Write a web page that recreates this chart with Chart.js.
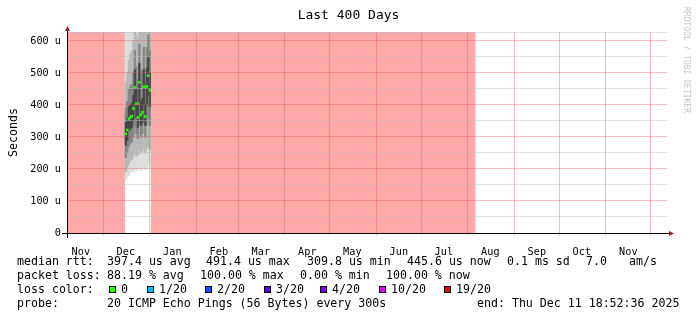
<!DOCTYPE html>
<html>
<head>
<meta charset="utf-8">
<title>Last 400 Days</title>
<script src="https://cdn.jsdelivr.net/npm/chart.js@4.4.1/dist/chart.umd.min.js"></script>
<style>
  html, body { margin: 0; padding: 0; background: #fff; }
  #wrap { position: relative; width: 697px; height: 321px; }
  .txt { position: absolute; font: 11.6px "DejaVu Sans Mono", monospace; line-height: 14px; white-space: pre; color: #000; }
  .box { position: absolute; width: 7px; height: 7px; box-sizing: border-box; border: 1px solid #000; }
  #mark { position: absolute; left: 682px; top: 7px; writing-mode: vertical-rl; font: 8px "DejaVu Sans Mono", monospace; color: #c4c4c4; white-space: pre; }
</style>
</head>
<body>
<div id="wrap">
  <canvas id="graficoPing"></canvas>
  <div id="mark">RRDTOOL / TOBI OETIKER</div>
</div>
<script>
const DAY = 86400000;
const graphStart = '2024-11-06T18:52:36Z';
const graphDays = 400;

// eje x: rejilla al inicio de cada mes, etiqueta a mitad de mes
const monthStarts = ['2024-12-01', '2025-01-01', '2025-02-01', '2025-03-01', '2025-04-01', '2025-05-01',
  '2025-06-01', '2025-07-01', '2025-08-01', '2025-09-01', '2025-10-01', '2025-11-01', '2025-12-01'];
const monthLabelDays = ['2024-11-16', '2024-12-16', '2025-01-16', '2025-02-16', '2025-03-16', '2025-04-16',
  '2025-05-16', '2025-06-16', '2025-07-16', '2025-08-16', '2025-09-16', '2025-10-16', '2025-11-16'];
const monthLabels = ['Nov', 'Dec', 'Jan', 'Feb', 'Mar', 'Apr', 'May', 'Jun', 'Jul', 'Aug', 'Sep', 'Oct', 'Nov'];

// eje y (microsegundos)
const yGrid = [0, 50, 100, 150, 200, 250, 300, 350, 400, 450, 500, 550, 600];
const yMax = 628;

// dias con respuesta
const pingDays = ['2024-12-16', '2024-12-17', '2024-12-18', '2024-12-19', '2024-12-20', '2024-12-21',
  '2024-12-22', '2024-12-23', '2024-12-24', '2024-12-25', '2024-12-26', '2024-12-27', '2024-12-28',
  '2024-12-29', '2024-12-30', '2024-12-31', '2025-01-01'];
const medianRtt = [309.8, 322, 356, 361, 365, 389, 455, 404, 361, 471, 369, 377, 457, 364, 458, 491.4, 445.6];

// humo: rangos de los pings ordenados
const outerLo = [165, 175, 180, 190, 195, 190, 200, 195, 200, 205, 195, 200, 205, 200, 200, 210, 205];
const outerHi = [640, 640, 640, 640, 640, 640, 640, 640, 640, 640, 640, 640, 640, 640, 640, 640, 640];
const midLo = [190, 205, 215, 225, 230, 240, 250, 240, 245, 260, 250, 255, 265, 250, 265, 270, 260];
const midHi = [470, 500, 540, 560, 570, 600, 640, 620, 600, 640, 640, 640, 640, 640, 640, 640, 640];
const innerLo = [235, 250, 270, 280, 285, 300, 330, 310, 295, 340, 300, 310, 340, 300, 340, 360, 335];
const innerHi = [390, 410, 450, 460, 465, 500, 570, 520, 480, 590, 500, 510, 580, 490, 580, 620, 570];
const coreLo = [275, 290, 320, 325, 330, 350, 400, 360, 330, 410, 335, 345, 400, 335, 400, 430, 395];
const coreHi = [345, 360, 395, 400, 405, 430, 510, 450, 400, 530, 410, 420, 510, 400, 515, 550, 500];

// periodos con 100% de perdida
const lossFrom = ['2024-11-06T18:52:36Z', '2025-01-01T12:00:00Z'];
const lossTo = ['2024-12-15T12:00:00Z', '2025-08-06T06:00:00Z'];

const lossColors = ['#26ff00', '#00b8ff', '#0059ff', '#5e00ff', '#7e00ff', '#dd00ff', '#ff0000'];
const lossColorLabels = ['0', '1/20', '2/20', '3/20', '4/20', '10/20', '19/20'];

const t0 = Date.parse(graphStart);
const toDay = s => (Date.parse(s) - t0) / DAY;

const band = (lo, hi) => pingDays.map((d, i) => ({ x: toDay(d), y: [lo[i], hi[i]] }));

const lossData = [];
lossFrom.forEach((f, i) => {
  if (i > 0) lossData.push({ x: toDay(f), y: null });
  lossData.push({ x: toDay(f), y: yMax });
  lossData.push({ x: toDay(lossTo[i]), y: yMax });
});

const redGrid = 'rgba(224, 80, 80, 0.36)';
const grayGrid = 'rgba(186, 186, 186, 0.45)';
const mono = 'DejaVu Sans Mono';

const smoke = (data, color, order) => ({
  type: 'bar', data, backgroundColor: color, borderWidth: 0, order,
  grouped: false, barPercentage: 1, categoryPercentage: 1
});

const ejes = {
  id: 'ejes',
  afterDraw(chart) {
    const { ctx, chartArea: a } = chart;
    ctx.save();
    ctx.strokeStyle = '#000';
    ctx.lineWidth = 1;
    ctx.beginPath();
    ctx.moveTo(a.left - 5, a.bottom + 0.5);
    ctx.lineTo(a.right + 3, a.bottom + 0.5);
    ctx.moveTo(a.left + 0.5, a.bottom + 5);
    ctx.lineTo(a.left + 0.5, a.top - 2);
    ctx.stroke();
    ctx.fillStyle = '#9b1c1c';
    ctx.beginPath();
    ctx.moveTo(a.right + 7, a.bottom + 0.5);
    ctx.lineTo(a.right + 2, a.bottom - 2);
    ctx.lineTo(a.right + 2, a.bottom + 3);
    ctx.fill();
    ctx.beginPath();
    ctx.moveTo(a.left + 0.5, a.top - 6);
    ctx.lineTo(a.left - 2, a.top - 1);
    ctx.lineTo(a.left + 3, a.top - 1);
    ctx.fill();
    ctx.restore();
  }
};

const ctxPing = document.getElementById('graficoPing').getContext('2d');
new Chart(ctxPing, {
  type: 'bar',
  data: {
    datasets: [
      {
        type: 'scatter',
        data: pingDays.map((d, i) => ({ x: toDay(d), y: medianRtt[i] })),
        pointStyle: 'rect',
        pointRadius: 1.8,
        borderWidth: 0,
        backgroundColor: lossColors[0],
        order: 0
      },
      smoke(band(coreLo, coreHi), '#454545', 1),
      smoke(band(innerLo, innerHi), '#858585', 2),
      smoke(band(midLo, midHi), '#b8b8b8', 3),
      smoke(band(outerLo, outerHi), '#dddddd', 4),
      {
        type: 'line',
        data: lossData,
        fill: 'origin',
        backgroundColor: '#ffaaaa',
        borderColor: '#c6a8ee',
        borderWidth: 1,
        pointRadius: 0,
        spanGaps: false,
        order: 5
      }
    ]
  },
  options: {
    responsive: true,
    maintainAspectRatio: false,
    animation: false,
    layout: { padding: 0 },
    plugins: {
      legend: { display: false },
      tooltip: { enabled: false },
      title: {
        display: true,
        text: 'Last 400 Days',
        color: '#000',
        font: { family: mono, size: 13, weight: 'normal' },
        padding: { top: 7.7, bottom: 8.7 }
      }
    },
    scales: {
      x: {
        type: 'linear',
        min: 0,
        max: graphDays,
        offset: false,
        afterBuildTicks: s => { s.ticks = monthStarts.map(d => ({ value: toDay(d) })); },
        afterFit: s => { s.height = 3; },
        ticks: { display: false },
        grid: { color: redGrid, tickColor: redGrid, tickLength: 3, drawTicks: true, offset: false, z: 1 },
        border: { display: false }
      },
      x2: {
        type: 'linear',
        position: 'bottom',
        min: 0,
        max: graphDays,
        offset: false,
        afterBuildTicks: s => { s.ticks = monthLabelDays.map(d => ({ value: toDay(d) })); },
        afterFit: s => { s.height = 85; },
        ticks: {
          callback: (v, i) => monthLabels[i],
          autoSkip: false,
          maxRotation: 0,
          padding: 2,
          color: '#000',
          font: { family: mono, size: 10.2 }
        },
        grid: { display: false },
        border: { display: false }
      },
      y: {
        min: 0,
        max: yMax,
        afterBuildTicks: s => { s.ticks = yGrid.concat([yMax]).map(v => ({ value: v })); },
        afterFit: s => { s.width = 67; },
        ticks: {
          callback: v => v === 0 ? '0' : (v % 100 === 0 ? v + ' u' : ''),
          autoSkip: false,
          padding: 6,
          color: '#000',
          font: { family: mono, size: 10.2 }
        },
        grid: {
          color: c => c.tick && c.tick.value % 100 === 0 ? redGrid : grayGrid,
          drawTicks: false,
          z: 1
        },
        border: { display: false },
        title: {
          display: true,
          text: 'Seconds',
          color: '#000',
          font: { family: mono, size: 11.6 },
          padding: { top: 7, bottom: 0 }
        }
      },
      margen: {
        axis: 'y',
        position: 'right',
        min: 0,
        max: yMax,
        afterFit: s => { s.width = 30; },
        ticks: { display: false },
        grid: { display: false },
        border: { display: false }
      }
    }
  },
  plugins: [ejes]
});

// leyenda de texto
const wrap = document.getElementById('wrap');
function put(x, y, text) {
  const el = document.createElement('div');
  el.className = 'txt';
  el.style.left = x + 'px';
  el.style.top = y + 'px';
  el.textContent = text;
  wrap.appendChild(el);
}

const avg = medianRtt.reduce((a, b) => a + b, 0) / medianRtt.length;
const rttItems = [
  [17, 'median rtt:'],
  [107, avg.toFixed(1) + ' us avg'],
  [206, Math.max(...medianRtt).toFixed(1) + ' us max'],
  [307, Math.min(...medianRtt).toFixed(1) + ' us min'],
  [407, medianRtt[medianRtt.length - 1].toFixed(1) + ' us now'],
  [507, '0.1 ms sd'],
  [586, '7.0'],
  [629, 'am/s']
];
rttItems.forEach(([x, t]) => put(x, 254, t));

const lossItems = [[17, 'packet loss:'], [107, '88.19 % avg'], [200, '100.00 % max'], [300, '0.00 % min'], [386, '100.00 % now']];
lossItems.forEach(([x, t]) => put(x, 268, t));

put(17, 282, 'loss color:');
const boxX = [109, 147, 205, 264, 320, 379, 444];
lossColorLabels.forEach((t, i) => {
  const b = document.createElement('div');
  b.className = 'box';
  b.style.left = boxX[i] + 'px';
  b.style.top = '286px';
  b.style.background = lossColors[i];
  wrap.appendChild(b);
  put(boxX[i] + 12, 282, t);
});

put(17, 296, 'probe:');
put(107, 296, '20 ICMP Echo Pings (56 Bytes) every 300s');
put(477, 296, 'end: Thu Dec 11 18:52:36 2025');
</script>
</body>
</html>
